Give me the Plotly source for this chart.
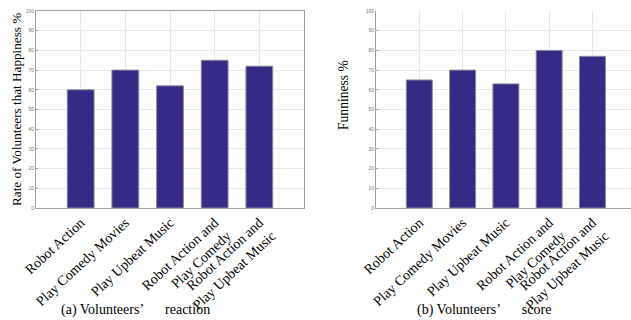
import plotly.graph_objects as go

categories = ["Robot Action", "Play Comedy Movies", "Play Upbeat Music",
              "Robot Action and<br>Play Comedy", "Robot Action and<br>Play Upbeat Music"]
positions = [1, 2, 3, 4, 5]
happiness = [60, 70, 62, 75, 72]
funniness = [65, 70, 63, 80, 77]
y_ticks = [0, 10, 20, 30, 40, 50, 60, 70, 80, 90, 100]

W, H = 631, 320
bar_color = "#352a85"
serif = "Liberation Serif, Times New Roman, serif"

fig = go.Figure()
fig.add_trace(go.Bar(x=positions, y=happiness, width=0.6, marker=dict(color=bar_color, line=dict(color="#8a8a9a", width=1)),
                     xaxis="x", yaxis="y", showlegend=False))
fig.add_trace(go.Bar(x=positions, y=funniness, width=0.6, marker=dict(color=bar_color, line=dict(color="#8a8a9a", width=1)),
                     xaxis="x2", yaxis="y2", showlegend=False))

def px(x):
    return x / W

def py(y):
    return 1 - y / H

xcommon = dict(tickvals=positions, ticktext=categories, tickangle=-43,
               tickfont=dict(family=serif, size=14, color="black"),
               showgrid=True, gridcolor="#e8e8e8", gridwidth=1,
               showline=True, linecolor="#a0a0a0", linewidth=1,
               ticks="", zeroline=False, fixedrange=True, automargin=False)
ycommon = dict(range=[0, 100], tickvals=y_ticks,
               tickfont=dict(family="Arial, sans-serif", size=5, color="#777"),
               showgrid=True, gridcolor="#e8e8e8", gridwidth=1,
               showline=True, linecolor="#a0a0a0", linewidth=1,
               ticks="inside", ticklen=2, tickcolor="#a0a0a0",
               zeroline=False, fixedrange=True, automargin=False)

def ann(text, x, y, angle=0, size=14):
    return dict(text=text, x=px(x), y=py(y), xref="paper", yref="paper",
                xanchor="center", yanchor="middle", textangle=angle, showarrow=False,
                font=dict(family=serif, size=size, color="black"))

gap = "\u00a0" * 6

fig.update_layout(
    width=W, height=H,
    margin=dict(l=0, r=0, t=0, b=0),
    paper_bgcolor="white", plot_bgcolor="white",
    bargap=0.4,
    xaxis=dict(domain=[px(36), px(304)], range=[0, 6], anchor="y", mirror=True, **xcommon),
    yaxis=dict(domain=[py(208), py(11)], anchor="x", mirror=True, **ycommon),
    xaxis2=dict(domain=[px(376), 1.0], range=[0, 5.89], anchor="y2", mirror=False, **xcommon),
    yaxis2=dict(domain=[py(208), py(11)], anchor="x2", mirror=False, **ycommon),
    annotations=[
        ann("Rate of Volunteers that Happiness %", 16, 110, -90, 13.2),
        ann("Funniness %", 343, 95, -90, 13.6),
        ann("(a) Volunteers\u2019" + gap + "reaction", 135.5, 310),
        ann("(b) Volunteers\u2019" + gap + "score", 483.5, 310),
    ],
)

fig.write_html("out.html", post_script="document.body.style.margin='0px';",
               config={"displayModeBar": False})
